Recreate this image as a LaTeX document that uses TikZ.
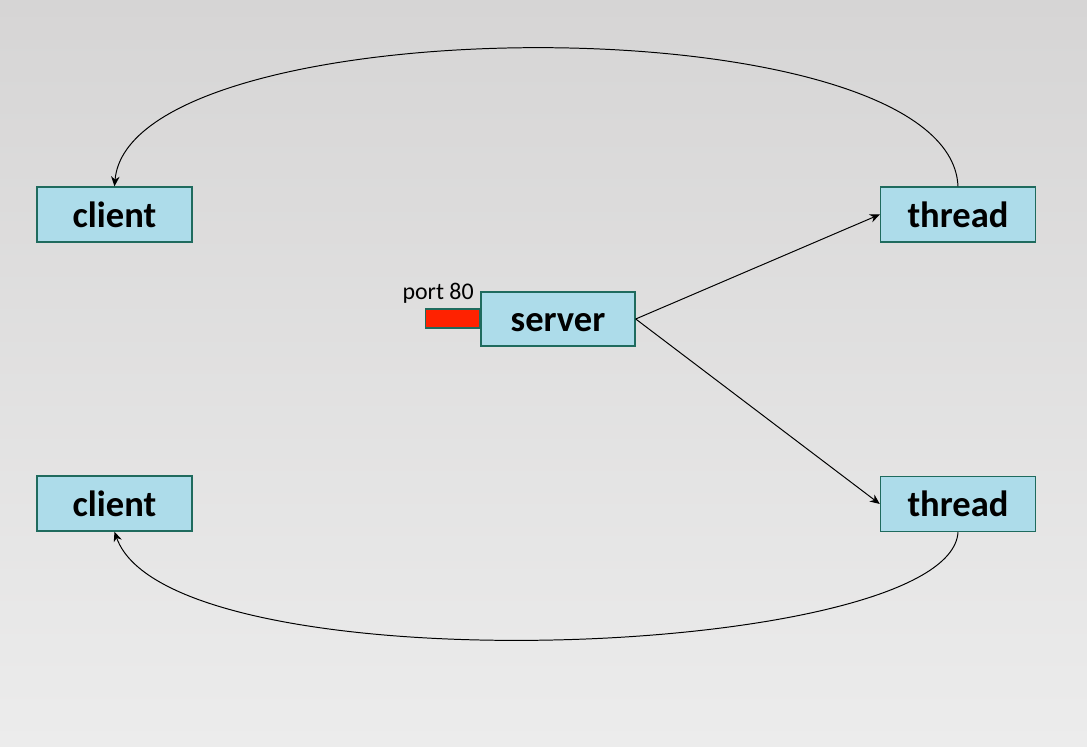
\documentclass[tikz,border=0pt]{standalone}
\usepackage{fontspec}
\setmainfont{Carlito}
\usetikzlibrary{arrows.meta,positioning}
\definecolor{boxfill}{HTML}{ADDCEA}
\definecolor{boxedge}{HTML}{1F6B5E}
\definecolor{portred}{HTML}{FF2200}
\definecolor{bgtop}{HTML}{D6D5D5}
\definecolor{bgbottom}{HTML}{ECECEC}
\begin{document}
\begin{tikzpicture}[x=0.025cm,y=-0.025cm,
  box/.style={draw=boxedge,line width=1pt,fill=boxfill,minimum width=3.875cm,
    minimum height=1.375cm,inner sep=0pt,text height=18pt,text depth=0pt,
    font=\fontsize{26}{30}\selectfont\bfseries},
  portbox/.style={draw=boxedge,line width=1pt,fill=portred,minimum width=1.35cm,
    minimum height=0.475cm,inner sep=0pt},
  link/.style={line width=0.7pt,-{Stealth[length=7pt,width=6pt]}}]

% background
\shade[top color=bgtop,bottom color=bgbottom] (0,0) rectangle (1087,747);
\useasboundingbox (0,0) rectangle (1087,747);

% nodes
\node[box] (client1) at (114.5,214.5) {client};
\node[box] (client2) at (114.5,503.5) {client};
\node[box] (thread1) at (958,214.5) {thread};
\node[box] (thread2) at (958,504) {thread};
\node[box,minimum width=3.85cm,minimum height=1.35cm] (server) at (558,319) {server};
\node[portbox,anchor=east] (port) at (server.west |- 0,318.5) {};
\node[anchor=base east,inner sep=0pt,font=\fontsize{17}{20}\selectfont] (portlabel) at (474,300) {port 80};

% connections
\draw[link] (server.east) -- (thread1.west);
\draw[link] (server.east) -- (thread2.west);
\draw[link] (thread1.north) .. controls (950,0) and (130,5) .. (client1.north);
\draw[link] (thread2.south) .. controls (950,660) and (170,690) .. (client2.south);

\end{tikzpicture}
\end{document}
